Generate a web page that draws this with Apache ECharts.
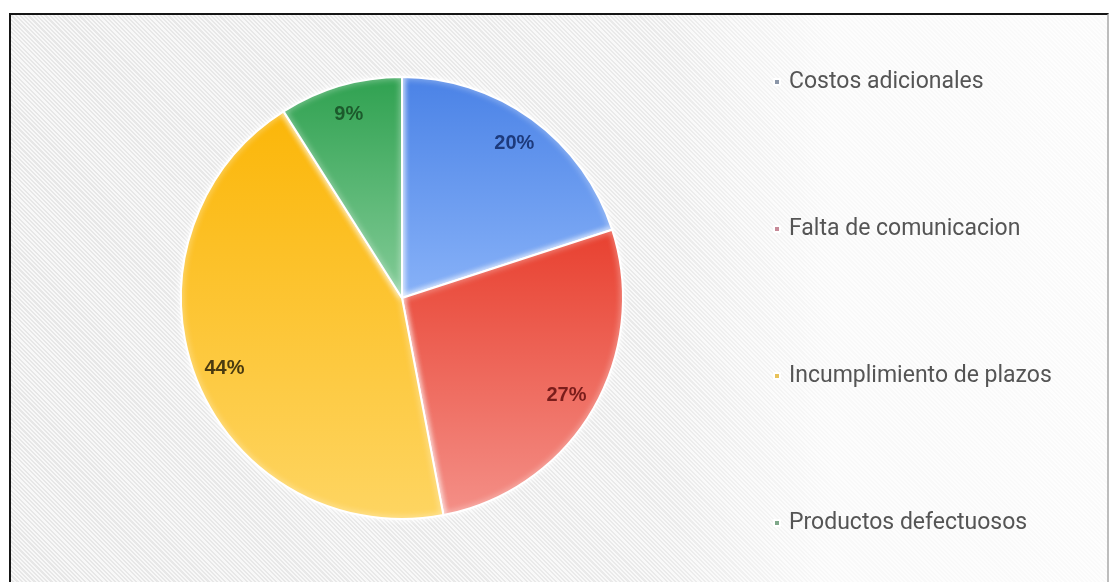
<!DOCTYPE html>
<html>
<head>
<meta charset="utf-8">
<script src="https://cdn.jsdelivr.net/npm/echarts@6/dist/echarts.min.js"></script>
<style>
  html, body { margin: 0; padding: 0; background: #ffffff; width: 1109px; height: 582px; overflow: hidden; }
  #frame {
    position: absolute; left: 9px; top: 13px; width: 1100px; height: 580px;
    box-sizing: border-box; border: 2px solid #151515; border-bottom: none; border-right-color: #bdbdbd;
    background:
      linear-gradient(to right, rgba(255,255,255,0) 0%, rgba(255,255,255,0.15) 60%, rgba(255,255,255,0.75) 75%, rgba(255,255,255,0.8) 100%),
      repeating-linear-gradient(45deg, #e7e7e7 0px, #e7e7e7 1.5px, #f8f8f8 1.5px, #f8f8f8 3px);
  }
  #chart { position: absolute; left: 0; top: 0; width: 1096px; height: 578px; }
</style>
</head>
<body>
<div id="frame"><div id="chart"></div></div>
<script>
// Causas de problemas con proveedores (porcentaje)
const categories = ['Costos adicionales', 'Falta de comunicacion', 'Incumplimiento de plazos', 'Productos defectuosos'];
const values = [20, 27, 44, 9];

// slice gradient: [top colour, bottom colour]
const sliceColors = [
  ['#4a82e6', '#88b2f8'],
  ['#e8402f', '#f49088'],
  ['#fbb608', '#fed562'],
  ['#2fa150', '#84cc98']
];
const labelColors = ['#1d3a7c', '#7a1d1b', '#4a3a10', '#1c5a2c'];
const legendColors = ['#8b96a8', '#c78a98', '#e8c25a', '#7fa88a'];

const chart = echarts.init(document.getElementById('chart'));

const mainData = categories.map((name, i) => ({
  name,
  value: values[i],
  itemStyle: {
    color: new echarts.graphic.LinearGradient(0, 0, 0, 1, [
      { offset: 0, color: sliceColors[i][0] },
      { offset: 1, color: sliceColors[i][1] }
    ])
  }
}));

// transparent companion pie: its "inside" labels sit further out than the main pie's
const labelData = categories.map((name, i) => ({
  name,
  value: values[i],
  itemStyle: { color: 'rgba(0,0,0,0)' },
  label: { color: labelColors[i] }
}));

const center = [391, 283];

chart.setOption({
  backgroundColor: 'transparent',
  animation: false,
  legend: {
    orient: 'vertical',
    left: 757,
    top: 50,
    itemGap: 123,
    itemWidth: 6,
    itemHeight: 6,
    icon: 'rect',
    selectedMode: false,
    textStyle: { fontFamily: 'Roboto, Arial, sans-serif', fontSize: 23, color: '#555555', lineHeight: 24, padding: [0, 0, 0, 4] },
    data: categories.map((name, i) => ({ name, itemStyle: { color: legendColors[i] } }))
  },
  series: [
    {
      type: 'pie',
      center,
      radius: [0, 221],
      startAngle: 90,
      clockwise: true,
      silent: true,
      label: { show: false },
      labelLine: { show: false },
      itemStyle: {
        borderColor: '#ffffff',
        borderWidth: 2,
        shadowBlur: 6,
        shadowColor: 'rgba(255,255,255,0.9)'
      },
      data: mainData
    },
    {
      type: 'pie',
      center,
      radius: [0, 376],
      startAngle: 90,
      clockwise: true,
      silent: true,
      label: {
        show: true,
        position: 'inside',
        formatter: '{d}%',
        fontFamily: 'Arial, sans-serif',
        fontWeight: 'bold',
        fontSize: 20
      },
      labelLine: { show: false },
      data: labelData
    }
  ]
});
</script>
</body>
</html>
